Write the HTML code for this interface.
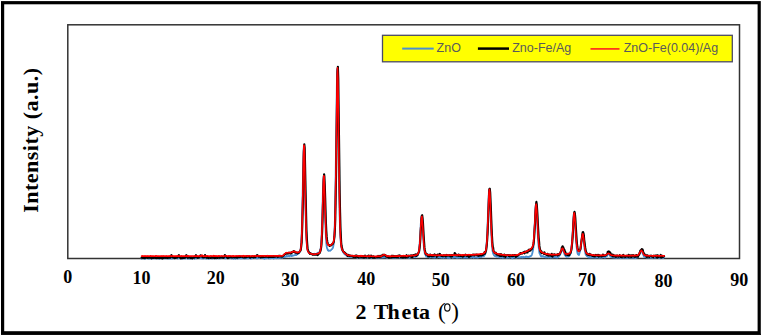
<!DOCTYPE html>
<html><head><meta charset="utf-8"><style>
html,body{margin:0;padding:0;background:#fff;width:762px;height:336px;overflow:hidden}
svg{display:block}
.t{font-family:"Liberation Serif",serif;font-weight:bold;fill:#000}
.l{font-family:"Liberation Sans",sans-serif;fill:#5a5a5a}
</style></head><body>
<svg width="762" height="336" viewBox="0 0 762 336">
<rect x="2.6" y="2.7" width="756.6" height="330.1" fill="none" stroke="#000" stroke-width="3.2"/>
<rect x="1" y="333.8" width="760" height="1.1" fill="#000"/>
<rect x="67.8" y="24.8" width="671.7" height="233.7" fill="none" stroke="#333" stroke-width="1.5"/>
<g fill="none" stroke-linejoin="round" stroke-linecap="round">
<path d="M141.6,258.8 L141.9,257.4 L142.3,258.3 L142.7,258.0 L143.0,258.1 L143.4,258.1 L143.8,257.6 L144.2,258.1 L144.5,257.9 L144.9,259.2 L145.3,258.3 L145.7,258.1 L146.0,258.1 L146.4,258.0 L146.8,257.9 L147.1,258.1 L147.5,258.3 L147.9,258.1 L148.3,258.5 L148.6,258.1 L149.0,258.2 L149.4,258.6 L149.8,258.3 L150.1,258.0 L150.5,258.1 L150.9,258.3 L151.3,258.8 L151.6,258.1 L152.0,258.1 L152.4,258.5 L152.7,257.9 L153.1,258.1 L153.5,258.4 L153.9,258.3 L154.2,258.2 L154.6,258.4 L155.0,257.3 L155.4,258.5 L155.7,257.9 L156.1,257.7 L156.5,258.3 L156.9,258.4 L157.2,258.0 L157.6,257.8 L158.0,258.2 L158.3,258.1 L158.7,258.6 L159.1,258.4 L159.5,258.2 L159.8,258.5 L160.2,258.1 L160.6,257.9 L161.0,258.3 L161.3,258.3 L161.7,258.1 L162.1,257.9 L162.5,258.2 L162.8,257.4 L163.2,258.4 L163.6,258.3 L163.9,257.7 L164.3,258.2 L164.7,257.9 L165.1,258.4 L165.4,257.5 L165.8,257.9 L166.2,258.4 L166.6,258.5 L166.9,257.5 L167.3,258.0 L167.7,258.2 L168.1,258.0 L168.4,258.6 L168.8,257.8 L169.2,258.3 L169.5,257.8 L169.9,258.6 L170.3,258.1 L170.7,258.0 L171.0,257.6 L171.4,258.6 L171.8,258.4 L172.2,258.4 L172.5,258.5 L172.9,258.2 L173.3,258.0 L173.6,257.9 L174.0,257.9 L174.4,258.6 L174.8,257.7 L175.1,258.0 L175.5,258.0 L175.9,258.2 L176.3,258.3 L176.6,257.8 L177.0,257.6 L177.4,258.1 L177.8,258.5 L178.1,258.4 L178.5,258.2 L178.9,258.0 L179.2,258.2 L179.6,258.1 L180.0,258.4 L180.4,257.9 L180.7,258.2 L181.1,258.1 L181.5,258.3 L181.9,258.2 L182.2,258.9 L182.6,258.6 L183.0,258.6 L183.4,257.5 L183.7,258.0 L184.1,257.9 L184.5,258.3 L184.8,257.4 L185.2,258.5 L185.6,258.4 L186.0,257.7 L186.3,257.8 L186.7,257.9 L187.1,258.1 L187.5,258.3 L187.8,258.7 L188.2,258.1 L188.6,258.3 L189.0,258.2 L189.3,258.6 L189.7,258.3 L190.1,258.5 L190.4,257.8 L190.8,258.1 L191.2,257.9 L191.6,258.6 L191.9,258.3 L192.3,258.0 L192.7,258.0 L193.1,258.3 L193.4,257.9 L193.8,257.8 L194.2,258.3 L194.6,258.8 L194.9,258.0 L195.3,257.9 L195.7,257.8 L196.0,257.7 L196.4,258.3 L196.8,258.4 L197.2,258.1 L197.5,258.2 L197.9,258.1 L198.3,258.1 L198.7,257.6 L199.0,258.0 L199.4,258.1 L199.8,257.9 L200.2,258.0 L200.5,257.9 L200.9,258.0 L201.3,258.4 L201.6,258.0 L202.0,258.0 L202.4,258.3 L202.8,258.3 L203.1,258.6 L203.5,257.5 L203.9,258.3 L204.3,257.9 L204.6,258.1 L205.0,258.3 L205.4,258.4 L205.7,258.4 L206.1,258.1 L206.5,258.6 L206.9,258.0 L207.2,258.0 L207.6,258.3 L208.0,257.9 L208.4,258.7 L208.7,258.4 L209.1,258.7 L209.5,258.1 L209.9,258.0 L210.2,258.1 L210.6,258.3 L211.0,257.9 L211.3,258.2 L211.7,258.1 L212.1,258.6 L212.5,257.9 L212.8,258.4 L213.2,257.9 L213.6,257.8 L214.0,257.9 L214.3,257.7 L214.7,258.1 L215.1,258.4 L215.5,258.1 L215.8,258.3 L216.2,258.6 L216.6,258.1 L216.9,258.1 L217.3,258.0 L217.7,257.6 L218.1,258.3 L218.4,257.5 L218.8,258.3 L219.2,258.1 L219.6,258.4 L219.9,258.0 L220.3,257.8 L220.7,258.2 L221.1,257.9 L221.4,258.0 L221.8,258.1 L222.2,258.0 L222.5,258.0 L222.9,257.8 L223.3,258.0 L223.7,257.4 L224.0,258.0 L224.4,257.7 L224.8,258.4 L225.2,258.4 L225.5,257.5 L225.9,258.1 L226.3,258.0 L226.7,257.7 L227.0,258.2 L227.4,257.9 L227.8,257.5 L228.1,258.0 L228.5,258.0 L228.9,258.1 L229.3,257.7 L229.6,258.2 L230.0,258.3 L230.4,257.7 L230.8,257.8 L231.1,258.0 L231.5,257.9 L231.9,258.6 L232.2,258.1 L232.6,257.7 L233.0,257.8 L233.4,258.0 L233.7,258.7 L234.1,258.0 L234.5,258.1 L234.9,258.2 L235.2,258.0 L235.6,258.7 L236.0,257.9 L236.4,258.3 L236.7,258.1 L237.1,258.2 L237.5,257.7 L237.8,258.6 L238.2,258.0 L238.6,258.0 L239.0,257.7 L239.3,257.8 L239.7,258.2 L240.1,258.3 L240.5,258.2 L240.8,258.4 L241.2,258.2 L241.6,258.0 L242.0,258.3 L242.3,258.2 L242.7,258.0 L243.1,258.2 L243.4,258.4 L243.8,258.1 L244.2,257.9 L244.6,258.2 L244.9,258.6 L245.3,257.9 L245.7,258.0 L246.1,258.0 L246.4,258.4 L246.8,257.5 L247.2,258.1 L247.6,258.4 L247.9,257.8 L248.3,258.4 L248.7,258.2 L249.0,257.8 L249.4,258.1 L249.8,257.5 L250.2,257.8 L250.5,258.5 L250.9,257.7 L251.3,258.5 L251.7,258.0 L252.0,258.3 L252.4,258.0 L252.8,257.3 L253.2,257.8 L253.5,258.0 L253.9,257.6 L254.3,257.6 L254.6,258.1 L255.0,257.8 L255.4,257.5 L255.8,257.8 L256.1,258.2 L256.5,257.8 L256.9,258.3 L257.3,258.4 L257.6,258.0 L258.0,257.6 L258.4,257.6 L258.8,258.0 L259.1,258.2 L259.5,258.0 L259.9,258.1 L260.2,257.8 L260.6,258.0 L261.0,257.8 L261.4,257.9 L261.7,257.6 L262.1,257.5 L262.5,257.8 L262.9,257.6 L263.2,257.7 L263.6,258.1 L264.0,257.9 L264.3,258.8 L264.7,258.2 L265.1,257.7 L265.5,258.2 L265.8,258.0 L266.2,257.7 L266.6,258.3 L267.0,257.7 L267.3,257.0 L267.7,258.2 L268.1,257.7 L268.5,258.4 L268.8,257.7 L269.2,257.6 L269.6,258.4 L269.9,257.6 L270.3,258.0 L270.7,258.3 L271.1,257.9 L271.4,257.9 L271.8,257.9 L272.2,258.1 L272.6,257.7 L272.9,258.1 L273.3,258.1 L273.7,258.6 L274.1,257.8 L274.4,257.6 L274.8,258.1 L275.2,257.8 L275.5,258.0 L275.9,257.9 L276.3,258.2 L276.7,257.7 L277.0,257.8 L277.4,257.1 L277.8,257.6 L278.2,258.3 L278.5,257.6 L278.9,257.6 L279.3,257.5 L279.7,258.0 L280.0,257.8 L280.4,257.3 L280.8,257.8 L281.1,257.6 L281.5,257.7 L281.9,257.2 L282.3,257.8 L282.6,257.3 L283.0,257.1 L283.4,256.9 L283.8,256.9 L284.1,257.1 L284.5,256.7 L284.9,257.0 L285.3,256.8 L285.6,256.9 L286.0,256.7 L286.4,256.3 L286.7,255.7 L287.1,256.3 L287.5,256.4 L287.9,256.1 L288.2,256.2 L288.6,255.9 L289.0,255.8 L289.4,255.6 L289.7,256.3 L290.1,255.8 L290.5,255.6 L290.9,255.3 L291.2,255.6 L291.6,256.0 L292.0,255.6 L292.3,255.2 L292.7,255.8 L293.1,255.7 L293.5,255.5 L293.8,255.4 L294.2,255.4 L294.6,255.1 L295.0,255.1 L295.3,254.5 L295.7,255.1 L296.1,254.6 L296.4,255.0 L296.8,253.6 L297.2,254.3 L297.6,254.2 L297.9,253.6 L298.3,253.6 L298.7,253.4 L299.1,253.0 L299.4,252.2 L299.8,251.7 L300.2,251.1 L300.6,249.5 L300.9,246.2 L301.3,241.2 L301.7,233.2 L302.0,221.5 L302.4,204.8 L302.8,185.7 L303.2,166.8 L303.5,151.3 L303.9,145.5 L304.3,151.6 L304.7,166.8 L305.0,185.7 L305.4,205.2 L305.8,220.4 L306.2,233.0 L306.5,240.4 L306.9,245.4 L307.3,248.8 L307.6,250.2 L308.0,251.0 L308.4,251.8 L308.8,252.5 L309.1,252.6 L309.5,252.9 L309.9,253.4 L310.3,253.0 L310.6,253.3 L311.0,253.4 L311.4,254.0 L311.8,254.0 L312.1,254.1 L312.5,253.8 L312.9,253.8 L313.2,254.1 L313.6,253.8 L314.0,254.1 L314.4,254.1 L314.7,253.7 L315.1,253.8 L315.5,253.8 L315.9,254.3 L316.2,254.5 L316.6,253.6 L317.0,253.6 L317.4,252.8 L317.7,253.4 L318.1,253.2 L318.5,252.7 L318.8,253.0 L319.2,252.0 L319.6,251.8 L320.0,251.1 L320.3,249.4 L320.7,247.9 L321.1,244.3 L321.5,237.8 L321.8,229.3 L322.2,218.5 L322.6,204.9 L322.9,190.8 L323.3,180.4 L323.7,176.3 L324.1,180.3 L324.4,191.2 L324.8,204.6 L325.2,218.3 L325.6,229.4 L325.9,237.5 L326.3,243.1 L326.7,246.6 L327.1,248.4 L327.4,248.9 L327.8,250.1 L328.2,250.2 L328.5,250.9 L328.9,250.5 L329.3,250.7 L329.7,250.6 L330.0,250.9 L330.4,250.4 L330.8,250.1 L331.2,250.0 L331.5,249.5 L331.9,249.3 L332.3,248.7 L332.7,248.1 L333.0,247.7 L333.4,245.5 L333.8,243.2 L334.1,238.9 L334.5,231.9 L334.9,219.7 L335.3,202.5 L335.6,178.9 L336.0,149.8 L336.4,117.7 L336.8,88.7 L337.1,69.9 L337.5,68.6 L337.9,84.6 L338.3,111.8 L338.6,143.7 L339.0,174.0 L339.4,198.7 L339.7,217.7 L340.1,230.5 L340.5,238.9 L340.9,243.7 L341.2,246.2 L341.6,248.7 L342.0,250.1 L342.4,250.5 L342.7,251.4 L343.1,252.0 L343.5,252.7 L343.9,252.5 L344.2,253.9 L344.6,253.7 L345.0,254.5 L345.3,254.5 L345.7,254.7 L346.1,255.1 L346.5,255.6 L346.8,255.4 L347.2,255.8 L347.6,256.0 L348.0,255.7 L348.3,256.7 L348.7,256.5 L349.1,256.4 L349.5,256.8 L349.8,256.2 L350.2,256.5 L350.6,257.1 L350.9,256.9 L351.3,256.0 L351.7,255.7 L352.1,256.4 L352.4,257.1 L352.8,256.7 L353.2,256.8 L353.6,257.0 L353.9,256.6 L354.3,257.0 L354.7,257.2 L355.0,257.1 L355.4,257.1 L355.8,256.8 L356.2,257.1 L356.5,256.9 L356.9,257.4 L357.3,257.8 L357.7,256.8 L358.0,256.4 L358.4,256.9 L358.8,257.2 L359.2,257.4 L359.5,257.4 L359.9,256.9 L360.3,256.9 L360.6,257.5 L361.0,256.8 L361.4,257.5 L361.8,257.1 L362.1,257.4 L362.5,257.4 L362.9,257.4 L363.3,257.4 L363.6,256.9 L364.0,257.3 L364.4,257.2 L364.8,257.3 L365.1,257.6 L365.5,257.1 L365.9,257.0 L366.2,257.0 L366.6,257.1 L367.0,257.4 L367.4,257.0 L367.7,257.6 L368.1,257.3 L368.5,257.2 L368.9,256.8 L369.2,257.3 L369.6,257.4 L370.0,256.7 L370.4,257.6 L370.7,257.7 L371.1,257.4 L371.5,257.4 L371.8,258.0 L372.2,257.6 L372.6,257.0 L373.0,257.3 L373.3,257.2 L373.7,257.2 L374.1,256.6 L374.5,257.5 L374.8,257.1 L375.2,257.3 L375.6,257.2 L376.0,257.5 L376.3,257.2 L376.7,257.1 L377.1,257.5 L377.4,257.7 L377.8,257.2 L378.2,257.7 L378.6,257.4 L378.9,257.1 L379.3,257.8 L379.7,257.1 L380.1,257.6 L380.4,257.2 L380.8,257.4 L381.2,256.9 L381.5,257.1 L381.9,257.6 L382.3,257.4 L382.7,257.3 L383.0,257.2 L383.4,257.4 L383.8,256.9 L384.2,257.0 L384.5,257.3 L384.9,257.1 L385.3,257.1 L385.7,257.3 L386.0,257.3 L386.4,257.3 L386.8,257.8 L387.1,257.6 L387.5,257.7 L387.9,257.3 L388.3,257.2 L388.6,256.9 L389.0,257.2 L389.4,256.7 L389.8,257.1 L390.1,257.6 L390.5,257.8 L390.9,257.6 L391.3,257.1 L391.6,257.5 L392.0,257.1 L392.4,257.6 L392.7,257.3 L393.1,257.6 L393.5,258.1 L393.9,257.6 L394.2,258.0 L394.6,257.4 L395.0,257.2 L395.4,257.7 L395.7,257.8 L396.1,257.2 L396.5,257.3 L396.9,256.9 L397.2,257.3 L397.6,257.6 L398.0,257.3 L398.3,257.1 L398.7,256.9 L399.1,257.4 L399.5,257.6 L399.8,257.5 L400.2,257.4 L400.6,256.9 L401.0,257.8 L401.3,257.3 L401.7,257.3 L402.1,257.5 L402.5,256.7 L402.8,257.3 L403.2,257.3 L403.6,257.4 L403.9,257.7 L404.3,257.4 L404.7,256.7 L405.1,257.2 L405.4,257.3 L405.8,257.3 L406.2,256.9 L406.6,256.8 L406.9,257.4 L407.3,257.3 L407.7,257.2 L408.1,256.7 L408.4,257.8 L408.8,256.3 L409.2,257.1 L409.5,257.8 L409.9,257.1 L410.3,257.2 L410.7,256.8 L411.0,257.5 L411.4,256.7 L411.8,257.2 L412.2,257.1 L412.5,256.7 L412.9,257.3 L413.3,256.6 L413.6,256.7 L414.0,256.9 L414.4,256.7 L414.8,256.9 L415.1,257.0 L415.5,256.6 L415.9,256.4 L416.3,256.3 L416.6,256.2 L417.0,256.3 L417.4,255.7 L417.8,255.4 L418.1,254.5 L418.5,253.0 L418.9,251.5 L419.2,247.9 L419.6,243.9 L420.0,238.8 L420.4,231.6 L420.7,225.4 L421.1,219.3 L421.5,216.5 L421.9,216.6 L422.2,220.7 L422.6,226.5 L423.0,233.3 L423.4,240.0 L423.7,244.9 L424.1,249.1 L424.5,251.7 L424.8,253.5 L425.2,254.5 L425.6,254.9 L426.0,255.9 L426.3,256.6 L426.7,256.5 L427.1,256.3 L427.5,257.1 L427.8,256.5 L428.2,256.6 L428.6,256.5 L429.0,256.6 L429.3,256.9 L429.7,257.6 L430.1,256.9 L430.4,256.7 L430.8,256.9 L431.2,257.0 L431.6,256.6 L431.9,257.2 L432.3,257.4 L432.7,257.3 L433.1,257.4 L433.4,256.8 L433.8,256.7 L434.2,257.6 L434.6,257.6 L434.9,256.8 L435.3,257.3 L435.7,257.3 L436.0,257.4 L436.4,257.3 L436.8,257.1 L437.2,257.3 L437.5,257.3 L437.9,257.3 L438.3,256.7 L438.7,256.4 L439.0,257.1 L439.4,256.8 L439.8,257.4 L440.2,257.5 L440.5,257.4 L440.9,257.2 L441.3,257.4 L441.6,257.7 L442.0,257.1 L442.4,257.6 L442.8,257.6 L443.1,257.4 L443.5,257.8 L443.9,257.1 L444.3,257.6 L444.6,257.1 L445.0,257.1 L445.4,257.0 L445.7,257.5 L446.1,257.1 L446.5,257.4 L446.9,257.0 L447.2,257.7 L447.6,257.9 L448.0,257.4 L448.4,257.9 L448.7,257.5 L449.1,258.0 L449.5,257.4 L449.9,256.9 L450.2,257.8 L450.6,257.3 L451.0,257.1 L451.3,257.2 L451.7,256.9 L452.1,257.3 L452.5,257.0 L452.8,257.8 L453.2,257.6 L453.6,256.9 L454.0,256.9 L454.3,257.2 L454.7,256.8 L455.1,257.3 L455.5,257.4 L455.8,257.1 L456.2,257.2 L456.6,257.5 L456.9,257.8 L457.3,257.8 L457.7,257.4 L458.1,257.6 L458.4,257.1 L458.8,257.5 L459.2,257.1 L459.6,257.6 L459.9,257.0 L460.3,257.1 L460.7,257.4 L461.1,257.5 L461.4,256.9 L461.8,257.2 L462.2,257.4 L462.5,257.4 L462.9,257.1 L463.3,257.4 L463.7,257.3 L464.0,257.8 L464.4,257.5 L464.8,256.9 L465.2,256.7 L465.5,257.4 L465.9,257.7 L466.3,257.4 L466.7,257.6 L467.0,257.2 L467.4,256.9 L467.8,257.5 L468.1,257.3 L468.5,257.5 L468.9,256.9 L469.3,257.4 L469.6,257.1 L470.0,257.5 L470.4,257.1 L470.8,257.1 L471.1,257.1 L471.5,257.6 L471.9,257.3 L472.2,257.0 L472.6,256.9 L473.0,256.9 L473.4,257.7 L473.7,256.7 L474.1,257.0 L474.5,257.4 L474.9,257.5 L475.2,257.1 L475.6,257.4 L476.0,257.4 L476.4,257.4 L476.7,257.1 L477.1,257.6 L477.5,257.1 L477.8,257.5 L478.2,256.7 L478.6,257.3 L479.0,256.6 L479.3,256.5 L479.7,257.0 L480.1,256.6 L480.5,256.9 L480.8,256.4 L481.2,257.1 L481.6,256.6 L482.0,256.2 L482.3,256.4 L482.7,256.5 L483.1,255.9 L483.4,256.1 L483.8,256.4 L484.2,255.8 L484.6,255.1 L484.9,254.4 L485.3,253.9 L485.7,251.8 L486.1,249.1 L486.4,246.4 L486.8,241.1 L487.2,235.0 L487.6,225.8 L487.9,215.3 L488.3,204.8 L488.7,196.3 L489.0,190.2 L489.4,189.7 L489.8,194.6 L490.2,203.2 L490.5,213.5 L490.9,223.8 L491.3,233.3 L491.7,240.7 L492.0,245.2 L492.4,250.2 L492.8,252.0 L493.2,253.8 L493.5,254.2 L493.9,255.1 L494.3,255.5 L494.6,255.8 L495.0,256.2 L495.4,256.3 L495.8,256.0 L496.1,256.3 L496.5,256.7 L496.9,256.8 L497.3,256.5 L497.6,256.6 L498.0,256.7 L498.4,256.5 L498.8,256.5 L499.1,257.4 L499.5,256.8 L499.9,257.0 L500.2,256.8 L500.6,257.4 L501.0,257.6 L501.4,257.0 L501.7,257.3 L502.1,256.9 L502.5,257.7 L502.9,257.4 L503.2,256.9 L503.6,257.6 L504.0,257.3 L504.3,257.3 L504.7,257.3 L505.1,257.0 L505.5,257.1 L505.8,257.4 L506.2,257.2 L506.6,257.0 L507.0,257.9 L507.3,257.2 L507.7,257.1 L508.1,257.1 L508.5,257.5 L508.8,257.6 L509.2,257.4 L509.6,257.6 L509.9,256.9 L510.3,257.2 L510.7,257.2 L511.1,257.3 L511.4,257.5 L511.8,256.7 L512.2,258.3 L512.6,257.1 L512.9,257.4 L513.3,257.6 L513.7,257.6 L514.1,257.4 L514.4,256.4 L514.8,257.0 L515.2,257.5 L515.5,257.0 L515.9,257.0 L516.3,256.6 L516.7,257.7 L517.0,257.5 L517.4,257.0 L517.8,257.3 L518.2,257.3 L518.5,257.0 L518.9,257.2 L519.3,257.4 L519.7,257.4 L520.0,257.6 L520.4,257.3 L520.8,257.1 L521.1,257.4 L521.5,257.0 L521.9,256.8 L522.3,257.6 L522.6,257.1 L523.0,257.2 L523.4,257.4 L523.8,256.8 L524.1,257.3 L524.5,257.3 L524.9,257.1 L525.3,257.2 L525.6,256.8 L526.0,256.4 L526.4,256.9 L526.7,256.7 L527.1,257.2 L527.5,257.0 L527.9,256.7 L528.2,256.8 L528.6,257.1 L529.0,257.0 L529.4,256.7 L529.7,256.6 L530.1,256.2 L530.5,256.1 L530.8,256.1 L531.2,255.7 L531.6,255.4 L532.0,254.3 L532.3,253.2 L532.7,251.6 L533.1,249.4 L533.5,246.3 L533.8,241.1 L534.2,233.9 L534.6,226.0 L535.0,218.5 L535.3,211.0 L535.7,205.4 L536.1,204.8 L536.4,207.5 L536.8,214.0 L537.2,221.6 L537.6,229.9 L537.9,237.1 L538.3,242.7 L538.7,247.4 L539.1,250.5 L539.4,253.1 L539.8,253.8 L540.2,254.5 L540.6,255.7 L540.9,256.1 L541.3,256.5 L541.7,256.5 L542.0,255.9 L542.4,256.3 L542.8,256.4 L543.2,256.6 L543.5,256.1 L543.9,256.8 L544.3,256.9 L544.7,256.6 L545.0,257.0 L545.4,257.3 L545.8,257.0 L546.2,257.3 L546.5,257.3 L546.9,257.2 L547.3,257.2 L547.6,257.0 L548.0,257.5 L548.4,257.0 L548.8,256.9 L549.1,257.4 L549.5,256.9 L549.9,257.3 L550.3,257.5 L550.6,257.2 L551.0,257.2 L551.4,257.5 L551.8,257.4 L552.1,256.7 L552.5,256.8 L552.9,257.6 L553.2,257.3 L553.6,256.6 L554.0,256.8 L554.4,257.2 L554.7,256.9 L555.1,257.3 L555.5,257.2 L555.9,257.3 L556.2,256.8 L556.6,257.3 L557.0,257.6 L557.4,256.8 L557.7,257.3 L558.1,257.2 L558.5,256.9 L558.8,256.5 L559.2,255.8 L559.6,255.4 L560.0,255.2 L560.3,254.2 L560.7,253.1 L561.1,251.8 L561.5,250.5 L561.8,249.1 L562.2,248.3 L562.6,249.0 L562.9,249.8 L563.3,250.9 L563.7,251.7 L564.1,253.2 L564.4,253.9 L564.8,255.2 L565.2,255.4 L565.6,256.0 L565.9,256.4 L566.3,256.5 L566.7,256.9 L567.1,256.1 L567.4,255.8 L567.8,256.6 L568.2,256.7 L568.5,256.6 L568.9,256.1 L569.3,256.0 L569.7,255.5 L570.0,254.6 L570.4,254.0 L570.8,253.0 L571.2,250.6 L571.5,248.3 L571.9,243.0 L572.3,237.9 L572.7,232.0 L573.0,224.7 L573.4,218.4 L573.8,214.2 L574.1,213.3 L574.5,216.4 L574.9,221.1 L575.3,227.6 L575.6,234.0 L576.0,240.4 L576.4,245.1 L576.8,248.5 L577.1,251.2 L577.5,253.1 L577.9,254.3 L578.3,254.4 L578.6,254.7 L579.0,255.0 L579.4,253.6 L579.7,252.4 L580.1,251.5 L580.5,249.1 L580.9,246.0 L581.2,242.8 L581.6,239.1 L582.0,236.4 L582.4,234.3 L582.7,234.5 L583.1,235.5 L583.5,238.5 L583.9,242.3 L584.2,245.6 L584.6,249.1 L585.0,251.4 L585.3,253.1 L585.7,254.6 L586.1,255.2 L586.5,255.5 L586.8,255.9 L587.2,256.3 L587.6,256.5 L588.0,256.8 L588.3,257.1 L588.7,257.1 L589.1,257.5 L589.5,257.4 L589.8,257.0 L590.2,257.6 L590.6,257.5 L590.9,257.0 L591.3,257.3 L591.7,257.5 L592.1,257.3 L592.4,257.5 L592.8,257.4 L593.2,257.5 L593.6,257.2 L593.9,257.4 L594.3,257.2 L594.7,257.5 L595.0,256.8 L595.4,257.4 L595.8,257.7 L596.2,257.5 L596.5,257.4 L596.9,257.5 L597.3,257.1 L597.7,257.1 L598.0,257.3 L598.4,257.3 L598.8,257.7 L599.2,257.1 L599.5,257.7 L599.9,256.9 L600.3,257.2 L600.6,257.4 L601.0,257.7 L601.4,257.2 L601.8,256.7 L602.1,257.5 L602.5,257.4 L602.9,257.0 L603.3,257.0 L603.6,257.1 L604.0,257.3 L604.4,257.4 L604.8,256.7 L605.1,257.7 L605.5,256.8 L605.9,256.4 L606.2,256.4 L606.6,255.8 L607.0,256.0 L607.4,255.1 L607.7,254.2 L608.1,253.9 L608.5,253.8 L608.9,254.0 L609.2,254.7 L609.6,254.8 L610.0,256.0 L610.4,255.9 L610.7,256.3 L611.1,257.0 L611.5,256.4 L611.8,256.8 L612.2,257.4 L612.6,257.3 L613.0,257.3 L613.3,257.5 L613.7,257.2 L614.1,257.4 L614.5,257.0 L614.8,256.9 L615.2,257.8 L615.6,257.2 L616.0,257.3 L616.3,257.9 L616.7,257.8 L617.1,257.3 L617.4,257.3 L617.8,257.5 L618.2,257.2 L618.6,257.7 L618.9,257.5 L619.3,257.5 L619.7,257.7 L620.1,257.7 L620.4,258.1 L620.8,258.0 L621.2,257.0 L621.5,257.8 L621.9,257.2 L622.3,257.1 L622.7,257.7 L623.0,257.3 L623.4,257.4 L623.8,257.8 L624.2,257.3 L624.5,257.2 L624.9,257.6 L625.3,257.9 L625.7,257.7 L626.0,257.0 L626.4,257.3 L626.8,257.5 L627.1,258.1 L627.5,257.8 L627.9,257.8 L628.3,257.9 L628.6,257.4 L629.0,257.7 L629.4,257.7 L629.8,257.2 L630.1,257.5 L630.5,257.7 L630.9,257.2 L631.3,257.7 L631.6,257.7 L632.0,257.8 L632.4,257.2 L632.7,257.5 L633.1,257.9 L633.5,257.7 L633.9,257.2 L634.2,257.5 L634.6,257.9 L635.0,257.4 L635.4,257.5 L635.7,258.1 L636.1,257.3 L636.5,257.3 L636.9,256.9 L637.2,256.9 L637.6,257.4 L638.0,256.6 L638.3,255.9 L638.7,255.4 L639.1,255.0 L639.5,254.4 L639.8,253.0 L640.2,252.5 L640.6,251.3 L641.0,251.1 L641.3,251.1 L641.7,251.5 L642.1,251.9 L642.5,253.0 L642.8,254.1 L643.2,254.5 L643.6,255.6 L643.9,256.3 L644.3,256.9 L644.7,256.9 L645.1,257.0 L645.4,257.2 L645.8,257.1 L646.2,257.3 L646.6,257.5 L646.9,257.5 L647.3,257.1 L647.7,257.3 L648.1,256.8 L648.4,257.7 L648.8,257.3 L649.2,257.5 L649.5,257.2 L649.9,257.5 L650.3,257.6 L650.7,257.8 L651.0,257.1 L651.4,257.8 L651.8,257.5 L652.2,257.3 L652.5,257.7 L652.9,257.4 L653.3,257.4 L653.6,257.3 L654.0,257.6 L654.4,257.5 L654.8,257.5 L655.1,257.3 L655.5,257.4 L655.9,257.7 L656.3,257.9 L656.6,257.5 L657.0,258.0 L657.4,257.5 L657.8,257.2 L658.1,257.7 L658.5,257.3 L658.9,257.7 L659.2,257.9 L659.6,257.5 L660.0,257.5 L660.4,258.3 L660.7,257.6 L661.1,257.6 L661.5,257.8 L661.9,257.5 L662.2,257.5 L662.6,257.7 L663.0,256.8 L663.4,258.0 L663.7,257.2 L664.1,257.2" stroke="#4a8fd0" stroke-width="1.8"/>
<path d="M141.6,257.7 L141.9,257.5 L142.3,257.6 L142.7,257.0 L143.0,258.2 L143.4,258.0 L143.8,257.6 L144.2,257.9 L144.5,257.8 L144.9,257.5 L145.3,258.0 L145.7,257.6 L146.0,257.6 L146.4,257.5 L146.8,257.8 L147.1,257.7 L147.5,257.9 L147.9,257.5 L148.3,257.7 L148.6,257.4 L149.0,257.9 L149.4,257.7 L149.8,257.8 L150.1,257.8 L150.5,257.4 L150.9,257.9 L151.3,258.3 L151.6,257.2 L152.0,257.2 L152.4,257.2 L152.7,257.9 L153.1,257.7 L153.5,258.0 L153.9,257.9 L154.2,257.8 L154.6,257.8 L155.0,257.6 L155.4,258.0 L155.7,257.4 L156.1,257.6 L156.5,257.8 L156.9,258.2 L157.2,257.5 L157.6,257.4 L158.0,257.5 L158.3,258.0 L158.7,257.6 L159.1,258.1 L159.5,257.1 L159.8,258.0 L160.2,258.0 L160.6,257.3 L161.0,257.7 L161.3,258.1 L161.7,257.7 L162.1,258.0 L162.5,258.4 L162.8,257.8 L163.2,257.6 L163.6,257.5 L163.9,257.9 L164.3,257.6 L164.7,257.6 L165.1,257.7 L165.4,257.9 L165.8,257.4 L166.2,257.2 L166.6,257.0 L166.9,258.0 L167.3,257.7 L167.7,258.1 L168.1,257.7 L168.4,257.5 L168.8,257.8 L169.2,257.7 L169.5,257.3 L169.9,257.3 L170.3,257.7 L170.7,256.6 L171.0,255.8 L171.4,255.2 L171.8,255.5 L172.2,256.8 L172.5,257.2 L172.9,257.3 L173.3,257.6 L173.6,257.4 L174.0,257.7 L174.4,258.0 L174.8,257.4 L175.1,258.1 L175.5,257.5 L175.9,257.7 L176.3,257.4 L176.6,257.6 L177.0,257.7 L177.4,257.4 L177.8,257.0 L178.1,256.4 L178.5,255.6 L178.9,255.0 L179.2,255.8 L179.6,256.7 L180.0,257.5 L180.4,257.7 L180.7,258.4 L181.1,257.8 L181.5,257.5 L181.9,258.2 L182.2,257.4 L182.6,258.0 L183.0,257.4 L183.4,257.8 L183.7,257.1 L184.1,258.0 L184.5,257.6 L184.8,257.2 L185.2,257.7 L185.6,256.7 L186.0,255.7 L186.3,255.1 L186.7,255.7 L187.1,256.4 L187.5,257.4 L187.8,257.8 L188.2,257.5 L188.6,257.5 L189.0,257.5 L189.3,257.3 L189.7,257.5 L190.1,257.7 L190.4,257.9 L190.8,258.1 L191.2,257.4 L191.6,257.8 L191.9,257.6 L192.3,258.3 L192.7,257.7 L193.1,257.8 L193.4,257.4 L193.8,257.4 L194.2,257.7 L194.6,257.4 L194.9,257.3 L195.3,256.1 L195.7,256.0 L196.0,255.2 L196.4,256.4 L196.8,256.5 L197.2,257.6 L197.5,257.1 L197.9,257.8 L198.3,257.4 L198.7,257.5 L199.0,257.5 L199.4,257.0 L199.8,256.5 L200.2,255.7 L200.5,255.3 L200.9,255.5 L201.3,256.0 L201.6,256.5 L202.0,256.7 L202.4,256.4 L202.8,257.5 L203.1,257.4 L203.5,257.5 L203.9,257.5 L204.3,256.7 L204.6,255.7 L205.0,255.0 L205.4,255.7 L205.7,256.6 L206.1,256.9 L206.5,257.8 L206.9,257.8 L207.2,257.0 L207.6,257.7 L208.0,257.2 L208.4,257.9 L208.7,257.8 L209.1,257.3 L209.5,257.3 L209.9,257.6 L210.2,257.5 L210.6,258.0 L211.0,257.8 L211.3,257.5 L211.7,257.7 L212.1,256.9 L212.5,257.6 L212.8,257.8 L213.2,257.5 L213.6,257.3 L214.0,257.7 L214.3,258.1 L214.7,257.6 L215.1,257.2 L215.5,257.9 L215.8,256.9 L216.2,257.6 L216.6,257.3 L216.9,257.8 L217.3,257.2 L217.7,257.9 L218.1,257.5 L218.4,256.9 L218.8,256.9 L219.2,257.3 L219.6,257.8 L219.9,257.5 L220.3,257.4 L220.7,257.3 L221.1,257.6 L221.4,257.5 L221.8,257.5 L222.2,257.1 L222.5,257.7 L222.9,257.8 L223.3,257.0 L223.7,257.9 L224.0,257.2 L224.4,256.2 L224.8,255.1 L225.2,255.5 L225.5,255.8 L225.9,256.2 L226.3,256.4 L226.7,257.5 L227.0,257.1 L227.4,257.2 L227.8,258.2 L228.1,257.9 L228.5,257.6 L228.9,257.1 L229.3,257.5 L229.6,256.6 L230.0,257.3 L230.4,257.0 L230.8,256.9 L231.1,256.8 L231.5,257.4 L231.9,257.3 L232.2,257.3 L232.6,257.5 L233.0,257.0 L233.4,256.8 L233.7,256.7 L234.1,257.1 L234.5,257.4 L234.9,257.1 L235.2,257.4 L235.6,256.8 L236.0,257.0 L236.4,256.9 L236.7,256.8 L237.1,257.7 L237.5,257.4 L237.8,256.9 L238.2,256.9 L238.6,257.1 L239.0,256.7 L239.3,257.2 L239.7,256.7 L240.1,257.0 L240.5,256.8 L240.8,257.0 L241.2,256.7 L241.6,256.6 L242.0,256.8 L242.3,256.9 L242.7,257.0 L243.1,257.1 L243.4,257.5 L243.8,257.3 L244.2,257.0 L244.6,257.3 L244.9,256.8 L245.3,257.5 L245.7,257.2 L246.1,256.6 L246.4,257.2 L246.8,257.2 L247.2,256.2 L247.6,256.8 L247.9,256.8 L248.3,256.4 L248.7,256.6 L249.0,256.7 L249.4,257.1 L249.8,257.0 L250.2,257.7 L250.5,256.8 L250.9,257.3 L251.3,256.9 L251.7,257.0 L252.0,256.6 L252.4,256.3 L252.8,256.7 L253.2,257.1 L253.5,257.4 L253.9,257.1 L254.3,257.0 L254.6,256.6 L255.0,257.3 L255.4,257.2 L255.8,256.6 L256.1,256.5 L256.5,255.6 L256.9,255.8 L257.3,255.1 L257.6,255.3 L258.0,256.0 L258.4,256.6 L258.8,256.6 L259.1,256.4 L259.5,256.4 L259.9,256.3 L260.2,256.9 L260.6,257.4 L261.0,256.2 L261.4,256.8 L261.7,256.9 L262.1,256.4 L262.5,256.8 L262.9,256.4 L263.2,257.1 L263.6,256.5 L264.0,256.7 L264.3,256.9 L264.7,256.6 L265.1,256.1 L265.5,256.5 L265.8,256.9 L266.2,256.6 L266.6,256.7 L267.0,256.3 L267.3,256.7 L267.7,256.9 L268.1,256.6 L268.5,257.2 L268.8,256.5 L269.2,256.3 L269.6,256.1 L269.9,256.9 L270.3,256.6 L270.7,256.9 L271.1,256.7 L271.4,257.0 L271.8,256.9 L272.2,256.4 L272.6,256.6 L272.9,256.9 L273.3,256.2 L273.7,256.9 L274.1,256.9 L274.4,256.8 L274.8,256.4 L275.2,256.6 L275.5,256.1 L275.9,256.5 L276.3,256.3 L276.7,256.5 L277.0,256.3 L277.4,256.5 L277.8,256.8 L278.2,256.0 L278.5,256.7 L278.9,255.8 L279.3,255.7 L279.7,256.3 L280.0,256.4 L280.4,256.5 L280.8,255.8 L281.1,256.3 L281.5,256.4 L281.9,256.7 L282.3,256.3 L282.6,256.4 L283.0,255.7 L283.4,255.6 L283.8,255.1 L284.1,255.1 L284.5,254.3 L284.9,254.0 L285.3,254.1 L285.6,254.1 L286.0,253.3 L286.4,253.3 L286.7,253.1 L287.1,253.5 L287.5,253.3 L287.9,253.7 L288.2,253.3 L288.6,252.9 L289.0,253.0 L289.4,252.8 L289.7,252.7 L290.1,253.5 L290.5,253.3 L290.9,252.7 L291.2,253.4 L291.6,252.8 L292.0,252.2 L292.3,252.5 L292.7,252.2 L293.1,251.8 L293.5,251.2 L293.8,252.0 L294.2,252.1 L294.6,251.4 L295.0,252.4 L295.3,252.6 L295.7,252.4 L296.1,252.7 L296.4,252.6 L296.8,252.6 L297.2,252.8 L297.6,253.4 L297.9,252.6 L298.3,252.9 L298.7,252.8 L299.1,252.3 L299.4,252.1 L299.8,251.4 L300.2,251.0 L300.6,250.4 L300.9,248.9 L301.3,245.9 L301.7,242.4 L302.0,233.7 L302.4,222.5 L302.8,206.8 L303.2,187.9 L303.5,168.7 L303.9,151.7 L304.3,144.2 L304.7,147.8 L305.0,160.9 L305.4,180.6 L305.8,199.8 L306.2,217.9 L306.5,230.1 L306.9,239.1 L307.3,244.6 L307.6,248.2 L308.0,250.3 L308.4,251.3 L308.8,252.0 L309.1,252.6 L309.5,253.1 L309.9,253.9 L310.3,253.2 L310.6,253.7 L311.0,253.7 L311.4,253.7 L311.8,253.9 L312.1,254.0 L312.5,254.6 L312.9,254.4 L313.2,254.3 L313.6,254.7 L314.0,254.6 L314.4,254.5 L314.7,254.7 L315.1,254.3 L315.5,254.7 L315.9,254.6 L316.2,254.3 L316.6,254.0 L317.0,254.8 L317.4,254.3 L317.7,255.1 L318.1,253.8 L318.5,254.1 L318.8,253.6 L319.2,253.6 L319.6,253.2 L320.0,252.0 L320.3,251.3 L320.7,250.1 L321.1,247.9 L321.5,244.6 L321.8,239.2 L322.2,231.0 L322.6,219.8 L322.9,206.4 L323.3,192.0 L323.7,180.3 L324.1,174.2 L324.4,176.6 L324.8,185.2 L325.2,197.6 L325.6,211.2 L325.9,222.0 L326.3,230.5 L326.7,236.4 L327.1,240.5 L327.4,242.0 L327.8,243.6 L328.2,244.7 L328.5,244.9 L328.9,245.0 L329.3,245.2 L329.7,245.9 L330.0,245.3 L330.4,245.6 L330.8,245.5 L331.2,245.0 L331.5,245.0 L331.9,244.5 L332.3,244.1 L332.7,243.4 L333.0,243.7 L333.4,242.7 L333.8,241.6 L334.1,239.3 L334.5,236.5 L334.9,229.8 L335.3,219.0 L335.6,202.8 L336.0,180.2 L336.4,152.8 L336.8,121.7 L337.1,91.9 L337.5,72.0 L337.9,66.7 L338.3,78.6 L338.6,104.2 L339.0,135.4 L339.4,166.3 L339.7,192.5 L340.1,212.3 L340.5,227.5 L340.9,236.5 L341.2,242.5 L341.6,246.0 L342.0,247.7 L342.4,249.3 L342.7,250.4 L343.1,251.2 L343.5,251.6 L343.9,251.9 L344.2,252.4 L344.6,252.6 L345.0,252.8 L345.3,253.0 L345.7,253.9 L346.1,254.1 L346.5,254.0 L346.8,255.0 L347.2,255.3 L347.6,255.9 L348.0,255.4 L348.3,255.4 L348.7,254.9 L349.1,255.8 L349.5,256.0 L349.8,255.8 L350.2,255.9 L350.6,255.5 L350.9,255.7 L351.3,255.8 L351.7,256.1 L352.1,256.2 L352.4,255.8 L352.8,256.3 L353.2,256.6 L353.6,256.9 L353.9,256.5 L354.3,256.1 L354.7,256.9 L355.0,256.3 L355.4,255.6 L355.8,257.0 L356.2,255.6 L356.5,255.9 L356.9,255.6 L357.3,256.9 L357.7,256.0 L358.0,256.5 L358.4,257.1 L358.8,257.1 L359.2,256.4 L359.5,256.5 L359.9,256.0 L360.3,256.0 L360.6,256.3 L361.0,257.1 L361.4,257.0 L361.8,256.9 L362.1,256.4 L362.5,256.1 L362.9,256.4 L363.3,256.8 L363.6,257.5 L364.0,256.5 L364.4,256.2 L364.8,257.3 L365.1,255.6 L365.5,256.1 L365.9,257.0 L366.2,256.6 L366.6,256.8 L367.0,256.7 L367.4,256.2 L367.7,256.3 L368.1,256.2 L368.5,255.5 L368.9,256.1 L369.2,257.6 L369.6,256.9 L370.0,255.9 L370.4,256.5 L370.7,257.2 L371.1,255.6 L371.5,256.2 L371.8,256.9 L372.2,257.1 L372.6,257.6 L373.0,257.4 L373.3,256.3 L373.7,257.4 L374.1,257.1 L374.5,257.0 L374.8,257.6 L375.2,257.1 L375.6,257.3 L376.0,256.9 L376.3,256.7 L376.7,256.7 L377.1,257.1 L377.4,257.3 L377.8,257.3 L378.2,255.9 L378.6,256.5 L378.9,256.3 L379.3,257.2 L379.7,257.1 L380.1,255.8 L380.4,256.5 L380.8,256.7 L381.2,256.6 L381.5,256.0 L381.9,256.1 L382.3,255.1 L382.7,255.0 L383.0,254.7 L383.4,255.3 L383.8,254.9 L384.2,255.4 L384.5,254.9 L384.9,255.2 L385.3,255.5 L385.7,255.4 L386.0,256.4 L386.4,256.3 L386.8,256.2 L387.1,257.0 L387.5,256.6 L387.9,257.0 L388.3,256.3 L388.6,257.1 L389.0,257.6 L389.4,257.4 L389.8,257.4 L390.1,257.3 L390.5,257.3 L390.9,257.5 L391.3,257.0 L391.6,255.8 L392.0,256.8 L392.4,257.1 L392.7,255.8 L393.1,255.7 L393.5,256.3 L393.9,257.3 L394.2,256.1 L394.6,256.7 L395.0,257.2 L395.4,256.8 L395.7,256.1 L396.1,256.8 L396.5,256.1 L396.9,256.8 L397.2,256.2 L397.6,256.8 L398.0,257.1 L398.3,255.6 L398.7,255.7 L399.1,255.7 L399.5,256.2 L399.8,255.4 L400.2,256.0 L400.6,256.3 L401.0,257.2 L401.3,256.9 L401.7,256.4 L402.1,256.7 L402.5,257.4 L402.8,256.2 L403.2,256.7 L403.6,257.5 L403.9,256.0 L404.3,256.7 L404.7,256.0 L405.1,256.5 L405.4,257.3 L405.8,256.4 L406.2,256.5 L406.6,255.2 L406.9,256.9 L407.3,256.6 L407.7,256.6 L408.1,256.8 L408.4,256.1 L408.8,255.5 L409.2,256.2 L409.5,255.9 L409.9,255.8 L410.3,256.0 L410.7,256.3 L411.0,255.2 L411.4,257.0 L411.8,257.0 L412.2,255.9 L412.5,256.9 L412.9,255.8 L413.3,255.0 L413.6,255.1 L414.0,255.3 L414.4,255.5 L414.8,255.6 L415.1,254.7 L415.5,255.6 L415.9,254.2 L416.3,255.9 L416.6,255.2 L417.0,254.7 L417.4,255.0 L417.8,254.2 L418.1,253.3 L418.5,253.0 L418.9,251.7 L419.2,251.0 L419.6,248.3 L420.0,244.2 L420.4,238.5 L420.7,231.2 L421.1,225.2 L421.5,218.7 L421.9,215.5 L422.2,215.2 L422.6,218.1 L423.0,223.1 L423.4,230.3 L423.7,235.9 L424.1,241.8 L424.5,247.4 L424.8,249.7 L425.2,251.7 L425.6,253.5 L426.0,254.5 L426.3,254.0 L426.7,253.8 L427.1,254.7 L427.5,255.1 L427.8,255.1 L428.2,256.5 L428.6,254.9 L429.0,255.3 L429.3,255.4 L429.7,256.4 L430.1,254.5 L430.4,255.3 L430.8,254.9 L431.2,255.6 L431.6,256.2 L431.9,255.8 L432.3,255.2 L432.7,256.2 L433.1,255.7 L433.4,255.6 L433.8,256.1 L434.2,254.6 L434.6,254.4 L434.9,255.3 L435.3,255.3 L435.7,255.0 L436.0,255.6 L436.4,255.7 L436.8,256.8 L437.2,255.2 L437.5,254.6 L437.9,255.5 L438.3,254.6 L438.7,255.2 L439.0,255.5 L439.4,254.4 L439.8,253.8 L440.2,254.7 L440.5,254.9 L440.9,255.5 L441.3,256.0 L441.6,255.9 L442.0,255.7 L442.4,256.1 L442.8,255.9 L443.1,256.2 L443.5,255.3 L443.9,255.2 L444.3,255.4 L444.6,255.6 L445.0,255.9 L445.4,255.3 L445.7,256.5 L446.1,255.6 L446.5,255.2 L446.9,254.9 L447.2,255.5 L447.6,255.7 L448.0,255.6 L448.4,255.7 L448.7,255.4 L449.1,255.5 L449.5,255.3 L449.9,255.0 L450.2,256.3 L450.6,256.5 L451.0,255.5 L451.3,256.3 L451.7,255.1 L452.1,256.3 L452.5,255.2 L452.8,255.2 L453.2,255.3 L453.6,255.2 L454.0,255.3 L454.3,254.9 L454.7,253.1 L455.1,253.4 L455.5,254.3 L455.8,255.4 L456.2,255.3 L456.6,254.8 L456.9,255.7 L457.3,255.8 L457.7,255.7 L458.1,255.4 L458.4,254.6 L458.8,255.9 L459.2,255.4 L459.6,255.3 L459.9,254.8 L460.3,255.9 L460.7,255.9 L461.1,256.1 L461.4,255.7 L461.8,255.6 L462.2,255.2 L462.5,255.2 L462.9,256.6 L463.3,255.6 L463.7,255.4 L464.0,255.7 L464.4,255.8 L464.8,255.4 L465.2,255.5 L465.5,254.7 L465.9,254.9 L466.3,255.1 L466.7,255.4 L467.0,256.1 L467.4,255.4 L467.8,255.2 L468.1,254.9 L468.5,255.8 L468.9,257.0 L469.3,255.3 L469.6,256.2 L470.0,255.9 L470.4,256.2 L470.8,255.3 L471.1,255.2 L471.5,255.7 L471.9,255.3 L472.2,255.0 L472.6,255.0 L473.0,254.6 L473.4,255.2 L473.7,254.9 L474.1,254.8 L474.5,255.5 L474.9,255.5 L475.2,254.7 L475.6,255.0 L476.0,254.9 L476.4,254.6 L476.7,255.1 L477.1,254.5 L477.5,255.2 L477.8,255.4 L478.2,255.8 L478.6,254.9 L479.0,255.6 L479.3,255.2 L479.7,255.3 L480.1,255.5 L480.5,254.4 L480.8,255.0 L481.2,254.7 L481.6,255.4 L482.0,255.3 L482.3,254.1 L482.7,254.0 L483.1,254.8 L483.4,253.7 L483.8,254.0 L484.2,253.2 L484.6,252.1 L484.9,253.7 L485.3,252.9 L485.7,251.4 L486.1,250.3 L486.4,248.5 L486.8,244.8 L487.2,239.7 L487.6,233.2 L487.9,225.5 L488.3,214.7 L488.7,205.8 L489.0,195.4 L489.4,189.1 L489.8,188.7 L490.2,192.3 L490.5,199.0 L490.9,208.1 L491.3,219.6 L491.7,229.0 L492.0,236.1 L492.4,242.6 L492.8,246.6 L493.2,247.8 L493.5,250.8 L493.9,251.6 L494.3,252.1 L494.6,252.9 L495.0,252.7 L495.4,253.5 L495.8,252.7 L496.1,253.4 L496.5,254.4 L496.9,254.7 L497.3,254.2 L497.6,254.2 L498.0,254.8 L498.4,255.2 L498.8,254.6 L499.1,254.8 L499.5,254.3 L499.9,256.0 L500.2,255.6 L500.6,254.4 L501.0,254.1 L501.4,255.9 L501.7,255.3 L502.1,255.8 L502.5,254.9 L502.9,255.1 L503.2,255.6 L503.6,255.5 L504.0,256.4 L504.3,254.6 L504.7,256.0 L505.1,255.3 L505.5,256.9 L505.8,255.2 L506.2,255.5 L506.6,255.7 L507.0,255.2 L507.3,255.0 L507.7,255.2 L508.1,255.2 L508.5,255.4 L508.8,256.0 L509.2,255.2 L509.6,256.3 L509.9,255.9 L510.3,255.4 L510.7,256.1 L511.1,255.9 L511.4,255.5 L511.8,255.6 L512.2,256.2 L512.6,255.7 L512.9,255.0 L513.3,255.9 L513.7,255.9 L514.1,255.4 L514.4,255.2 L514.8,255.7 L515.2,255.1 L515.5,255.4 L515.9,256.9 L516.3,255.9 L516.7,256.1 L517.0,256.1 L517.4,255.2 L517.8,255.6 L518.2,255.0 L518.5,254.8 L518.9,254.8 L519.3,254.5 L519.7,253.7 L520.0,254.2 L520.4,253.0 L520.8,253.8 L521.1,253.4 L521.5,253.1 L521.9,253.3 L522.3,253.5 L522.6,252.9 L523.0,252.7 L523.4,252.3 L523.8,252.1 L524.1,252.6 L524.5,253.4 L524.9,251.5 L525.3,252.0 L525.6,251.8 L526.0,252.5 L526.4,251.8 L526.7,251.4 L527.1,252.3 L527.5,252.5 L527.9,251.3 L528.2,251.0 L528.6,249.8 L529.0,251.1 L529.4,249.8 L529.7,250.8 L530.1,250.2 L530.5,250.5 L530.8,249.0 L531.2,248.9 L531.6,249.3 L532.0,248.3 L532.3,247.6 L532.7,246.9 L533.1,245.6 L533.5,244.0 L533.8,241.7 L534.2,236.8 L534.6,230.1 L535.0,224.0 L535.3,216.2 L535.7,209.8 L536.1,203.7 L536.4,201.9 L536.8,204.5 L537.2,210.4 L537.6,217.0 L537.9,224.0 L538.3,230.8 L538.7,237.5 L539.1,241.5 L539.4,245.9 L539.8,248.1 L540.2,250.1 L540.6,251.7 L540.9,252.3 L541.3,251.3 L541.7,253.2 L542.0,252.9 L542.4,252.7 L542.8,252.9 L543.2,253.1 L543.5,252.8 L543.9,253.9 L544.3,252.2 L544.7,253.3 L545.0,253.6 L545.4,254.2 L545.8,254.3 L546.2,254.6 L546.5,254.4 L546.9,255.1 L547.3,253.7 L547.6,254.6 L548.0,254.3 L548.4,255.6 L548.8,254.5 L549.1,254.5 L549.5,255.0 L549.9,255.4 L550.3,255.5 L550.6,254.8 L551.0,255.5 L551.4,255.9 L551.8,253.9 L552.1,255.4 L552.5,256.6 L552.9,255.2 L553.2,255.3 L553.6,254.8 L554.0,254.3 L554.4,254.8 L554.7,254.3 L555.1,255.2 L555.5,254.9 L555.9,255.0 L556.2,254.8 L556.6,254.8 L557.0,254.6 L557.4,255.0 L557.7,255.5 L558.1,254.1 L558.5,254.7 L558.8,255.0 L559.2,254.1 L559.6,254.1 L560.0,253.7 L560.3,252.7 L560.7,251.5 L561.1,251.6 L561.5,249.7 L561.8,247.6 L562.2,247.2 L562.6,246.3 L562.9,247.2 L563.3,247.3 L563.7,248.9 L564.1,249.5 L564.4,249.8 L564.8,251.6 L565.2,251.6 L565.6,253.5 L565.9,254.7 L566.3,254.5 L566.7,253.7 L567.1,253.8 L567.4,255.0 L567.8,254.6 L568.2,253.8 L568.5,255.2 L568.9,255.1 L569.3,255.1 L569.7,254.0 L570.0,253.4 L570.4,253.3 L570.8,251.9 L571.2,250.5 L571.5,249.1 L571.9,245.4 L572.3,241.7 L572.7,236.7 L573.0,231.3 L573.4,223.6 L573.8,217.9 L574.1,213.3 L574.5,211.8 L574.9,213.5 L575.3,217.6 L575.6,222.6 L576.0,229.2 L576.4,235.5 L576.8,241.5 L577.1,245.0 L577.5,247.3 L577.9,249.1 L578.3,250.6 L578.6,250.9 L579.0,251.0 L579.4,250.4 L579.7,250.4 L580.1,249.8 L580.5,249.0 L580.9,245.2 L581.2,243.1 L581.6,240.4 L582.0,237.4 L582.4,234.2 L582.7,232.2 L583.1,232.1 L583.5,233.3 L583.9,235.4 L584.2,239.6 L584.6,242.4 L585.0,245.7 L585.3,248.6 L585.7,250.1 L586.1,252.3 L586.5,252.5 L586.8,254.1 L587.2,253.8 L587.6,254.8 L588.0,254.7 L588.3,254.5 L588.7,254.9 L589.1,254.6 L589.5,253.8 L589.8,255.3 L590.2,254.4 L590.6,254.6 L590.9,254.5 L591.3,254.8 L591.7,255.5 L592.1,255.8 L592.4,255.9 L592.8,255.7 L593.2,256.1 L593.6,255.2 L593.9,256.2 L594.3,255.8 L594.7,255.9 L595.0,256.5 L595.4,255.3 L595.8,254.8 L596.2,255.3 L596.5,255.0 L596.9,255.5 L597.3,255.9 L597.7,255.7 L598.0,254.8 L598.4,255.9 L598.8,256.6 L599.2,255.2 L599.5,255.7 L599.9,255.4 L600.3,255.8 L600.6,256.3 L601.0,256.2 L601.4,256.5 L601.8,256.3 L602.1,256.3 L602.5,255.9 L602.9,254.5 L603.3,255.4 L603.6,255.9 L604.0,255.6 L604.4,255.6 L604.8,255.7 L605.1,255.3 L605.5,255.6 L605.9,255.2 L606.2,255.1 L606.6,254.4 L607.0,254.3 L607.4,253.7 L607.7,251.8 L608.1,252.1 L608.5,252.0 L608.9,251.3 L609.2,252.0 L609.6,253.6 L610.0,252.3 L610.4,252.9 L610.7,255.0 L611.1,254.2 L611.5,254.8 L611.8,255.4 L612.2,255.9 L612.6,254.5 L613.0,256.4 L613.3,255.9 L613.7,255.2 L614.1,256.3 L614.5,256.3 L614.8,255.9 L615.2,256.6 L615.6,255.9 L616.0,256.9 L616.3,255.6 L616.7,256.2 L617.1,255.7 L617.4,255.6 L617.8,256.1 L618.2,256.7 L618.6,256.8 L618.9,255.8 L619.3,256.0 L619.7,255.2 L620.1,256.0 L620.4,256.2 L620.8,257.0 L621.2,256.4 L621.5,256.6 L621.9,257.1 L622.3,256.3 L622.7,255.7 L623.0,255.2 L623.4,254.9 L623.8,256.6 L624.2,255.9 L624.5,256.7 L624.9,256.6 L625.3,257.0 L625.7,256.6 L626.0,256.2 L626.4,255.7 L626.8,256.4 L627.1,255.8 L627.5,255.8 L627.9,255.6 L628.3,256.9 L628.6,254.8 L629.0,256.6 L629.4,255.2 L629.8,256.2 L630.1,256.4 L630.5,255.8 L630.9,256.8 L631.3,255.2 L631.6,257.0 L632.0,255.5 L632.4,256.1 L632.7,255.5 L633.1,255.0 L633.5,256.0 L633.9,256.2 L634.2,256.7 L634.6,255.9 L635.0,256.8 L635.4,255.6 L635.7,256.1 L636.1,256.7 L636.5,255.1 L636.9,256.2 L637.2,255.7 L637.6,256.5 L638.0,256.7 L638.3,255.4 L638.7,255.0 L639.1,254.7 L639.5,252.9 L639.8,253.1 L640.2,250.9 L640.6,250.4 L641.0,250.1 L641.3,250.0 L641.7,249.2 L642.1,249.5 L642.5,249.4 L642.8,250.1 L643.2,251.8 L643.6,253.0 L643.9,253.4 L644.3,254.3 L644.7,255.0 L645.1,254.5 L645.4,254.7 L645.8,255.0 L646.2,255.6 L646.6,256.8 L646.9,257.0 L647.3,255.3 L647.7,256.4 L648.1,256.4 L648.4,256.2 L648.8,255.9 L649.2,257.0 L649.5,255.9 L649.9,255.8 L650.3,256.0 L650.7,256.0 L651.0,255.7 L651.4,256.0 L651.8,255.8 L652.2,256.7 L652.5,256.4 L652.9,256.4 L653.3,257.1 L653.6,256.2 L654.0,255.7 L654.4,255.9 L654.8,256.0 L655.1,255.9 L655.5,255.5 L655.9,255.7 L656.3,256.2 L656.6,257.4 L657.0,255.3 L657.4,257.6 L657.8,255.4 L658.1,256.5 L658.5,256.9 L658.9,256.8 L659.2,256.4 L659.6,256.3 L660.0,256.6 L660.4,255.5 L660.7,254.9 L661.1,257.6 L661.5,257.0 L661.9,256.9 L662.2,255.8 L662.6,257.0 L663.0,256.8 L663.4,256.8 L663.7,256.3 L664.1,256.1" stroke="#000" stroke-width="2.1"/>
<path d="M141.6,256.1 L141.9,256.2 L142.3,256.1 L142.7,255.9 L143.0,256.2 L143.4,256.1 L143.8,256.0 L144.2,256.2 L144.5,256.1 L144.9,256.1 L145.3,256.1 L145.7,256.2 L146.0,256.0 L146.4,256.1 L146.8,256.0 L147.1,256.2 L147.5,256.1 L147.9,256.1 L148.3,256.0 L148.6,256.1 L149.0,256.1 L149.4,256.1 L149.8,256.2 L150.1,256.2 L150.5,255.8 L150.9,255.9 L151.3,256.1 L151.6,256.0 L152.0,256.1 L152.4,256.1 L152.7,256.3 L153.1,256.0 L153.5,256.0 L153.9,256.3 L154.2,256.2 L154.6,256.2 L155.0,256.0 L155.4,255.9 L155.7,256.1 L156.1,256.1 L156.5,255.9 L156.9,256.0 L157.2,256.1 L157.6,256.0 L158.0,256.1 L158.3,256.1 L158.7,256.1 L159.1,256.0 L159.5,256.2 L159.8,256.2 L160.2,256.1 L160.6,256.0 L161.0,256.2 L161.3,256.0 L161.7,256.2 L162.1,256.0 L162.5,256.2 L162.8,256.1 L163.2,255.9 L163.6,256.1 L163.9,256.1 L164.3,256.1 L164.7,256.0 L165.1,256.0 L165.4,256.1 L165.8,256.0 L166.2,256.1 L166.6,256.2 L166.9,255.9 L167.3,256.1 L167.7,256.2 L168.1,256.1 L168.4,256.0 L168.8,256.2 L169.2,256.1 L169.5,256.2 L169.9,256.0 L170.3,255.9 L170.7,256.1 L171.0,256.0 L171.4,256.2 L171.8,256.1 L172.2,255.9 L172.5,255.9 L172.9,256.2 L173.3,256.2 L173.6,256.0 L174.0,256.1 L174.4,256.1 L174.8,256.1 L175.1,256.2 L175.5,256.1 L175.9,256.1 L176.3,256.1 L176.6,256.2 L177.0,255.8 L177.4,256.1 L177.8,256.1 L178.1,255.9 L178.5,256.1 L178.9,256.0 L179.2,256.2 L179.6,256.1 L180.0,256.2 L180.4,256.2 L180.7,256.1 L181.1,256.0 L181.5,255.9 L181.9,256.3 L182.2,256.1 L182.6,256.0 L183.0,256.1 L183.4,256.1 L183.7,256.2 L184.1,256.1 L184.5,256.1 L184.8,256.0 L185.2,256.1 L185.6,256.0 L186.0,256.2 L186.3,256.3 L186.7,255.9 L187.1,255.8 L187.5,256.2 L187.8,256.4 L188.2,256.0 L188.6,255.9 L189.0,256.2 L189.3,256.0 L189.7,256.0 L190.1,256.0 L190.4,256.2 L190.8,256.0 L191.2,256.1 L191.6,256.1 L191.9,256.0 L192.3,256.0 L192.7,256.0 L193.1,256.1 L193.4,256.0 L193.8,256.0 L194.2,256.3 L194.6,256.1 L194.9,256.1 L195.3,256.1 L195.7,256.0 L196.0,256.1 L196.4,256.1 L196.8,256.1 L197.2,255.9 L197.5,256.2 L197.9,256.0 L198.3,256.0 L198.7,256.0 L199.0,256.0 L199.4,256.3 L199.8,255.9 L200.2,256.1 L200.5,255.8 L200.9,256.1 L201.3,256.2 L201.6,255.7 L202.0,255.2 L202.4,255.5 L202.8,255.8 L203.1,256.0 L203.5,256.3 L203.9,256.1 L204.3,256.0 L204.6,256.1 L205.0,256.1 L205.4,256.1 L205.7,256.1 L206.1,256.1 L206.5,255.9 L206.9,256.2 L207.2,256.0 L207.6,255.9 L208.0,256.2 L208.4,256.2 L208.7,256.1 L209.1,256.1 L209.5,256.0 L209.9,256.4 L210.2,256.2 L210.6,255.9 L211.0,256.0 L211.3,256.1 L211.7,255.9 L212.1,256.1 L212.5,256.0 L212.8,256.2 L213.2,256.2 L213.6,255.7 L214.0,256.1 L214.3,255.9 L214.7,256.2 L215.1,256.1 L215.5,256.1 L215.8,255.9 L216.2,256.3 L216.6,256.3 L216.9,255.9 L217.3,256.1 L217.7,256.0 L218.1,256.1 L218.4,255.9 L218.8,256.3 L219.2,255.9 L219.6,256.0 L219.9,256.1 L220.3,256.0 L220.7,256.0 L221.1,256.0 L221.4,256.0 L221.8,255.9 L222.2,256.0 L222.5,256.0 L222.9,256.0 L223.3,256.1 L223.7,256.0 L224.0,256.1 L224.4,256.0 L224.8,256.0 L225.2,256.0 L225.5,256.0 L225.9,255.9 L226.3,256.1 L226.7,255.9 L227.0,256.0 L227.4,256.1 L227.8,256.1 L228.1,256.0 L228.5,255.8 L228.9,256.1 L229.3,256.1 L229.6,255.9 L230.0,256.1 L230.4,256.0 L230.8,255.9 L231.1,256.0 L231.5,256.0 L231.9,256.1 L232.2,255.8 L232.6,256.3 L233.0,256.0 L233.4,255.8 L233.7,256.1 L234.1,256.0 L234.5,256.1 L234.9,256.0 L235.2,256.0 L235.6,256.1 L236.0,255.9 L236.4,256.1 L236.7,256.0 L237.1,255.9 L237.5,256.0 L237.8,256.1 L238.2,256.0 L238.6,255.9 L239.0,256.1 L239.3,255.8 L239.7,255.9 L240.1,256.0 L240.5,255.9 L240.8,256.0 L241.2,256.0 L241.6,256.1 L242.0,255.9 L242.3,255.9 L242.7,256.1 L243.1,255.7 L243.4,256.4 L243.8,255.9 L244.2,255.9 L244.6,256.1 L244.9,256.0 L245.3,255.8 L245.7,256.1 L246.1,256.1 L246.4,256.0 L246.8,256.0 L247.2,256.1 L247.6,255.9 L247.9,256.1 L248.3,256.0 L248.7,255.9 L249.0,255.8 L249.4,256.0 L249.8,255.9 L250.2,256.1 L250.5,256.0 L250.9,256.1 L251.3,256.0 L251.7,256.0 L252.0,255.9 L252.4,256.1 L252.8,256.2 L253.2,256.0 L253.5,255.9 L253.9,256.0 L254.3,255.9 L254.6,255.9 L255.0,256.0 L255.4,255.9 L255.8,256.2 L256.1,256.0 L256.5,256.0 L256.9,256.1 L257.3,255.9 L257.6,256.1 L258.0,255.9 L258.4,255.9 L258.8,255.9 L259.1,256.0 L259.5,255.8 L259.9,256.0 L260.2,255.8 L260.6,256.1 L261.0,256.0 L261.4,255.9 L261.7,255.9 L262.1,255.9 L262.5,255.9 L262.9,255.8 L263.2,255.8 L263.6,255.9 L264.0,255.9 L264.3,256.1 L264.7,256.1 L265.1,255.9 L265.5,256.0 L265.8,255.8 L266.2,256.0 L266.6,255.9 L267.0,256.0 L267.3,256.1 L267.7,255.7 L268.1,256.0 L268.5,255.8 L268.8,256.0 L269.2,255.8 L269.6,255.9 L269.9,255.9 L270.3,256.0 L270.7,255.9 L271.1,255.8 L271.4,255.8 L271.8,256.0 L272.2,255.9 L272.6,255.7 L272.9,256.0 L273.3,256.0 L273.7,256.0 L274.1,255.9 L274.4,256.0 L274.8,255.8 L275.2,256.0 L275.5,255.8 L275.9,256.0 L276.3,256.0 L276.7,255.8 L277.0,255.9 L277.4,255.9 L277.8,256.0 L278.2,255.9 L278.5,255.7 L278.9,255.9 L279.3,255.9 L279.7,256.1 L280.0,255.6 L280.4,255.8 L280.8,256.0 L281.1,255.7 L281.5,255.7 L281.9,255.9 L282.3,255.9 L282.6,255.7 L283.0,255.5 L283.4,255.1 L283.8,255.0 L284.1,254.4 L284.5,254.2 L284.9,253.7 L285.3,253.4 L285.6,253.1 L286.0,252.9 L286.4,252.8 L286.7,252.6 L287.1,252.8 L287.5,252.8 L287.9,252.7 L288.2,252.6 L288.6,252.6 L289.0,252.5 L289.4,252.7 L289.7,252.7 L290.1,252.5 L290.5,252.7 L290.9,252.4 L291.2,252.3 L291.6,252.2 L292.0,252.3 L292.3,251.7 L292.7,251.8 L293.1,251.7 L293.5,251.4 L293.8,251.6 L294.2,251.5 L294.6,251.4 L295.0,251.9 L295.3,251.8 L295.7,252.0 L296.1,252.0 L296.4,252.4 L296.8,252.5 L297.2,252.4 L297.6,252.6 L297.9,252.6 L298.3,252.4 L298.7,252.2 L299.1,252.0 L299.4,251.8 L299.8,251.3 L300.2,250.6 L300.6,249.6 L300.9,247.5 L301.3,244.1 L301.7,238.0 L302.0,228.3 L302.4,213.8 L302.8,195.6 L303.2,174.8 L303.5,156.1 L303.9,145.1 L304.3,146.6 L304.7,159.6 L305.0,179.0 L305.4,199.5 L305.8,217.3 L306.2,230.8 L306.5,240.0 L306.9,245.6 L307.3,248.8 L307.6,250.5 L308.0,251.4 L308.4,252.1 L308.8,252.7 L309.1,253.1 L309.5,253.3 L309.9,253.3 L310.3,253.5 L310.6,253.6 L311.0,253.7 L311.4,253.9 L311.8,254.0 L312.1,254.2 L312.5,254.1 L312.9,254.3 L313.2,254.4 L313.6,254.2 L314.0,254.4 L314.4,254.3 L314.7,254.1 L315.1,254.2 L315.5,254.1 L315.9,254.1 L316.2,254.0 L316.6,254.0 L317.0,254.0 L317.4,253.7 L317.7,253.7 L318.1,253.4 L318.5,253.5 L318.8,253.3 L319.2,253.0 L319.6,252.5 L320.0,251.8 L320.3,250.6 L320.7,249.0 L321.1,246.4 L321.5,242.0 L321.8,234.9 L322.2,225.0 L322.6,211.7 L322.9,197.4 L323.3,184.0 L323.7,175.8 L324.1,176.1 L324.4,184.5 L324.8,197.6 L325.2,211.3 L325.6,222.9 L325.9,231.6 L326.3,237.3 L326.7,240.7 L327.1,242.5 L327.4,243.9 L327.8,244.5 L328.2,244.7 L328.5,245.4 L328.9,245.1 L329.3,245.2 L329.7,245.2 L330.0,245.4 L330.4,245.1 L330.8,245.1 L331.2,244.9 L331.5,244.6 L331.9,244.1 L332.3,243.8 L332.7,243.5 L333.0,242.8 L333.4,242.1 L333.8,240.8 L334.1,238.3 L334.5,233.5 L334.9,225.2 L335.3,211.5 L335.6,191.8 L336.0,165.1 L336.4,133.4 L336.8,102.1 L337.1,77.6 L337.5,67.8 L337.9,77.7 L338.3,102.9 L338.6,134.7 L339.0,166.5 L339.4,193.7 L339.7,214.3 L340.1,228.3 L340.5,237.4 L340.9,242.7 L341.2,245.6 L341.6,247.8 L342.0,249.2 L342.4,250.1 L342.7,250.8 L343.1,251.2 L343.5,251.9 L343.9,252.1 L344.2,252.7 L344.6,253.0 L345.0,253.5 L345.3,253.7 L345.7,253.8 L346.1,254.2 L346.5,254.6 L346.8,254.5 L347.2,254.8 L347.6,255.0 L348.0,255.0 L348.3,255.4 L348.7,255.5 L349.1,255.5 L349.5,255.5 L349.8,255.5 L350.2,255.6 L350.6,255.5 L350.9,255.7 L351.3,255.8 L351.7,255.8 L352.1,255.6 L352.4,255.7 L352.8,255.7 L353.2,256.0 L353.6,255.8 L353.9,255.6 L354.3,255.9 L354.7,256.1 L355.0,256.0 L355.4,256.0 L355.8,255.9 L356.2,255.7 L356.5,255.7 L356.9,255.8 L357.3,256.0 L357.7,256.0 L358.0,256.1 L358.4,256.0 L358.8,256.1 L359.2,256.0 L359.5,256.0 L359.9,256.2 L360.3,256.0 L360.6,255.7 L361.0,256.0 L361.4,256.1 L361.8,255.7 L362.1,256.1 L362.5,256.1 L362.9,255.9 L363.3,255.9 L363.6,256.1 L364.0,256.1 L364.4,256.3 L364.8,256.2 L365.1,256.0 L365.5,256.1 L365.9,256.2 L366.2,256.4 L366.6,256.2 L367.0,256.2 L367.4,256.4 L367.7,256.2 L368.1,256.2 L368.5,256.0 L368.9,256.1 L369.2,256.5 L369.6,256.0 L370.0,256.2 L370.4,256.0 L370.7,256.2 L371.1,256.3 L371.5,256.2 L371.8,256.3 L372.2,256.3 L372.6,256.3 L373.0,256.4 L373.3,256.3 L373.7,256.2 L374.1,256.2 L374.5,256.2 L374.8,256.3 L375.2,256.2 L375.6,256.6 L376.0,256.5 L376.3,256.2 L376.7,256.2 L377.1,256.5 L377.4,256.0 L377.8,256.2 L378.2,256.4 L378.6,256.2 L378.9,256.2 L379.3,256.2 L379.7,256.4 L380.1,256.3 L380.4,256.3 L380.8,256.4 L381.2,256.3 L381.5,256.2 L381.9,255.8 L382.3,255.5 L382.7,255.2 L383.0,255.0 L383.4,254.9 L383.8,254.9 L384.2,254.5 L384.5,254.7 L384.9,254.8 L385.3,255.1 L385.7,255.4 L386.0,255.6 L386.4,255.7 L386.8,256.0 L387.1,256.4 L387.5,256.0 L387.9,256.3 L388.3,256.0 L388.6,256.3 L389.0,256.2 L389.4,256.0 L389.8,256.3 L390.1,256.5 L390.5,256.3 L390.9,256.4 L391.3,256.2 L391.6,256.0 L392.0,256.3 L392.4,256.2 L392.7,256.0 L393.1,256.3 L393.5,256.2 L393.9,256.1 L394.2,256.3 L394.6,256.1 L395.0,256.2 L395.4,256.0 L395.7,256.2 L396.1,256.0 L396.5,256.3 L396.9,256.1 L397.2,256.3 L397.6,256.0 L398.0,256.0 L398.3,256.2 L398.7,255.7 L399.1,255.9 L399.5,256.2 L399.8,256.1 L400.2,256.2 L400.6,256.0 L401.0,256.1 L401.3,255.9 L401.7,255.8 L402.1,255.8 L402.5,255.9 L402.8,255.9 L403.2,255.9 L403.6,255.5 L403.9,255.7 L404.3,255.9 L404.7,256.0 L405.1,255.8 L405.4,255.8 L405.8,255.6 L406.2,256.1 L406.6,255.7 L406.9,256.1 L407.3,256.0 L407.7,255.9 L408.1,255.7 L408.4,255.8 L408.8,255.6 L409.2,255.8 L409.5,255.7 L409.9,255.8 L410.3,255.8 L410.7,255.9 L411.0,255.6 L411.4,255.8 L411.8,255.5 L412.2,255.5 L412.5,255.5 L412.9,255.4 L413.3,255.6 L413.6,255.6 L414.0,255.6 L414.4,255.4 L414.8,255.3 L415.1,255.2 L415.5,255.0 L415.9,255.1 L416.3,255.0 L416.6,254.7 L417.0,254.8 L417.4,254.3 L417.8,254.1 L418.1,253.5 L418.5,252.7 L418.9,251.1 L419.2,249.0 L419.6,245.5 L420.0,240.8 L420.4,234.7 L420.7,227.9 L421.1,221.7 L421.5,217.2 L421.9,216.3 L422.2,218.9 L422.6,224.1 L423.0,230.5 L423.4,237.0 L423.7,242.6 L424.1,246.7 L424.5,249.8 L424.8,251.8 L425.2,252.9 L425.6,253.6 L426.0,254.0 L426.3,254.2 L426.7,254.3 L427.1,254.7 L427.5,254.7 L427.8,255.0 L428.2,254.7 L428.6,254.7 L429.0,255.1 L429.3,255.1 L429.7,254.9 L430.1,254.9 L430.4,255.1 L430.8,254.9 L431.2,255.1 L431.6,254.9 L431.9,255.1 L432.3,254.9 L432.7,255.1 L433.1,255.4 L433.4,255.1 L433.8,255.3 L434.2,255.1 L434.6,255.1 L434.9,255.0 L435.3,255.3 L435.7,255.2 L436.0,255.4 L436.4,255.1 L436.8,255.2 L437.2,255.2 L437.5,255.4 L437.9,255.4 L438.3,255.1 L438.7,255.1 L439.0,255.0 L439.4,255.4 L439.8,255.2 L440.2,255.1 L440.5,255.2 L440.9,254.9 L441.3,255.0 L441.6,255.3 L442.0,255.2 L442.4,255.2 L442.8,255.1 L443.1,255.3 L443.5,255.4 L443.9,255.0 L444.3,255.2 L444.6,255.1 L445.0,255.2 L445.4,255.2 L445.7,255.1 L446.1,255.1 L446.5,255.2 L446.9,255.1 L447.2,255.1 L447.6,255.1 L448.0,255.2 L448.4,255.1 L448.7,255.1 L449.1,255.3 L449.5,255.1 L449.9,255.1 L450.2,255.2 L450.6,255.1 L451.0,255.1 L451.3,255.1 L451.7,255.0 L452.1,255.2 L452.5,255.2 L452.8,255.2 L453.2,254.9 L453.6,255.1 L454.0,255.0 L454.3,255.0 L454.7,255.1 L455.1,254.9 L455.5,255.2 L455.8,255.0 L456.2,255.1 L456.6,255.1 L456.9,255.2 L457.3,255.2 L457.7,254.8 L458.1,255.0 L458.4,254.8 L458.8,255.0 L459.2,255.1 L459.6,255.1 L459.9,255.1 L460.3,254.9 L460.7,255.0 L461.1,255.0 L461.4,255.1 L461.8,255.2 L462.2,254.9 L462.5,255.4 L462.9,254.9 L463.3,254.9 L463.7,255.0 L464.0,255.0 L464.4,255.0 L464.8,254.8 L465.2,255.1 L465.5,254.9 L465.9,255.1 L466.3,255.1 L466.7,254.7 L467.0,254.8 L467.4,254.7 L467.8,254.9 L468.1,254.9 L468.5,254.9 L468.9,254.7 L469.3,254.9 L469.6,255.0 L470.0,254.6 L470.4,254.8 L470.8,254.8 L471.1,254.8 L471.5,254.7 L471.9,255.0 L472.2,254.9 L472.6,254.8 L473.0,254.6 L473.4,255.0 L473.7,254.7 L474.1,254.6 L474.5,254.6 L474.9,254.6 L475.2,254.9 L475.6,254.6 L476.0,254.6 L476.4,254.3 L476.7,254.6 L477.1,254.4 L477.5,254.4 L477.8,254.6 L478.2,254.4 L478.6,254.5 L479.0,254.5 L479.3,254.1 L479.7,254.3 L480.1,254.1 L480.5,254.2 L480.8,254.3 L481.2,253.9 L481.6,254.3 L482.0,253.9 L482.3,253.7 L482.7,253.7 L483.1,253.7 L483.4,253.3 L483.8,253.3 L484.2,252.9 L484.6,253.0 L484.9,252.4 L485.3,251.8 L485.7,251.0 L486.1,249.1 L486.4,246.7 L486.8,243.0 L487.2,237.1 L487.6,229.6 L487.9,220.0 L488.3,209.5 L488.7,199.6 L489.0,192.2 L489.4,189.3 L489.8,192.1 L490.2,199.5 L490.5,209.3 L490.9,219.9 L491.3,229.3 L491.7,237.0 L492.0,242.4 L492.4,246.6 L492.8,249.0 L493.2,250.4 L493.5,251.5 L493.9,252.1 L494.3,252.5 L494.6,252.7 L495.0,253.0 L495.4,253.1 L495.8,253.2 L496.1,253.1 L496.5,253.4 L496.9,253.7 L497.3,253.7 L497.6,253.9 L498.0,254.0 L498.4,254.0 L498.8,254.4 L499.1,254.1 L499.5,254.4 L499.9,254.3 L500.2,254.3 L500.6,254.6 L501.0,254.5 L501.4,254.7 L501.7,254.6 L502.1,254.8 L502.5,254.7 L502.9,254.9 L503.2,254.9 L503.6,254.9 L504.0,255.1 L504.3,254.9 L504.7,254.9 L505.1,255.2 L505.5,255.2 L505.8,255.2 L506.2,255.1 L506.6,255.4 L507.0,255.0 L507.3,255.0 L507.7,255.0 L508.1,255.2 L508.5,255.2 L508.8,255.3 L509.2,255.3 L509.6,255.1 L509.9,255.1 L510.3,255.0 L510.7,255.4 L511.1,255.3 L511.4,255.3 L511.8,255.1 L512.2,255.2 L512.6,255.2 L512.9,255.2 L513.3,254.9 L513.7,255.2 L514.1,255.2 L514.4,255.2 L514.8,255.2 L515.2,255.3 L515.5,255.2 L515.9,255.3 L516.3,254.9 L516.7,255.0 L517.0,255.2 L517.4,254.7 L517.8,254.7 L518.2,254.6 L518.5,254.3 L518.9,254.4 L519.3,254.0 L519.7,253.8 L520.0,253.7 L520.4,253.5 L520.8,253.6 L521.1,253.4 L521.5,253.4 L521.9,253.1 L522.3,253.4 L522.6,252.9 L523.0,252.8 L523.4,252.7 L523.8,252.5 L524.1,252.3 L524.5,252.2 L524.9,252.2 L525.3,252.0 L525.6,251.9 L526.0,251.5 L526.4,251.3 L526.7,251.5 L527.1,251.1 L527.5,251.0 L527.9,250.8 L528.2,250.7 L528.6,250.2 L529.0,250.1 L529.4,249.9 L529.7,249.7 L530.1,249.2 L530.5,249.3 L530.8,248.6 L531.2,248.7 L531.6,248.3 L532.0,247.8 L532.3,247.1 L532.7,246.5 L533.1,244.7 L533.5,242.2 L533.8,238.5 L534.2,233.4 L534.6,227.1 L535.0,219.8 L535.3,212.2 L535.7,206.6 L536.1,204.1 L536.4,205.4 L536.8,210.4 L537.2,217.3 L537.6,225.3 L537.9,232.2 L538.3,238.4 L538.7,243.1 L539.1,246.4 L539.4,248.3 L539.8,249.8 L540.2,250.5 L540.6,251.1 L540.9,251.8 L541.3,252.0 L541.7,252.2 L542.0,252.3 L542.4,252.7 L542.8,252.9 L543.2,252.9 L543.5,253.0 L543.9,253.4 L544.3,253.4 L544.7,253.4 L545.0,253.5 L545.4,253.6 L545.8,253.8 L546.2,254.1 L546.5,253.9 L546.9,254.3 L547.3,254.1 L547.6,254.2 L548.0,254.5 L548.4,254.4 L548.8,254.4 L549.1,254.5 L549.5,254.6 L549.9,254.3 L550.3,254.5 L550.6,254.5 L551.0,254.5 L551.4,254.6 L551.8,254.5 L552.1,254.5 L552.5,254.6 L552.9,254.7 L553.2,254.5 L553.6,254.8 L554.0,254.5 L554.4,254.7 L554.7,254.5 L555.1,254.5 L555.5,254.6 L555.9,254.8 L556.2,254.7 L556.6,254.5 L557.0,254.7 L557.4,254.5 L557.7,254.4 L558.1,254.5 L558.5,254.4 L558.8,254.4 L559.2,254.0 L559.6,253.8 L560.0,253.4 L560.3,252.7 L560.7,251.8 L561.1,250.7 L561.5,249.9 L561.8,248.9 L562.2,248.3 L562.6,248.2 L562.9,248.7 L563.3,249.4 L563.7,250.6 L564.1,251.6 L564.4,252.4 L564.8,253.2 L565.2,253.6 L565.6,254.0 L565.9,254.0 L566.3,253.9 L566.7,254.1 L567.1,254.0 L567.4,253.9 L567.8,254.0 L568.2,253.9 L568.5,253.8 L568.9,253.6 L569.3,253.5 L569.7,253.3 L570.0,253.1 L570.4,252.3 L570.8,251.4 L571.2,250.0 L571.5,247.4 L571.9,244.0 L572.3,239.8 L572.7,233.5 L573.0,227.3 L573.4,220.6 L573.8,215.4 L574.1,212.8 L574.5,213.9 L574.9,218.2 L575.3,223.9 L575.6,230.7 L576.0,236.7 L576.4,241.8 L576.8,245.3 L577.1,248.0 L577.5,249.6 L577.9,250.4 L578.3,250.7 L578.6,251.4 L579.0,251.1 L579.4,250.9 L579.7,250.5 L580.1,249.5 L580.5,247.6 L580.9,245.5 L581.2,242.7 L581.6,239.8 L582.0,237.0 L582.4,234.3 L582.7,233.8 L583.1,234.3 L583.5,237.0 L583.9,240.0 L584.2,243.6 L584.6,246.4 L585.0,248.7 L585.3,250.5 L585.7,251.7 L586.1,252.7 L586.5,253.2 L586.8,253.6 L587.2,254.0 L587.6,254.0 L588.0,253.9 L588.3,254.0 L588.7,254.2 L589.1,254.5 L589.5,254.4 L589.8,254.5 L590.2,254.7 L590.6,254.5 L590.9,254.6 L591.3,254.9 L591.7,254.9 L592.1,254.9 L592.4,255.1 L592.8,255.0 L593.2,255.1 L593.6,255.1 L593.9,255.3 L594.3,255.2 L594.7,255.1 L595.0,255.2 L595.4,255.3 L595.8,255.5 L596.2,255.1 L596.5,255.3 L596.9,255.2 L597.3,255.4 L597.7,255.3 L598.0,255.5 L598.4,255.3 L598.8,255.2 L599.2,255.2 L599.5,255.4 L599.9,255.4 L600.3,255.6 L600.6,255.5 L601.0,255.2 L601.4,255.4 L601.8,255.2 L602.1,255.1 L602.5,255.4 L602.9,255.4 L603.3,255.2 L603.6,255.5 L604.0,255.2 L604.4,255.1 L604.8,255.3 L605.1,255.2 L605.5,255.1 L605.9,255.0 L606.2,254.8 L606.6,254.6 L607.0,254.3 L607.4,253.8 L607.7,253.6 L608.1,253.6 L608.5,253.3 L608.9,253.5 L609.2,253.8 L609.6,253.9 L610.0,254.3 L610.4,254.8 L610.7,254.9 L611.1,255.2 L611.5,255.3 L611.8,255.3 L612.2,255.3 L612.6,255.3 L613.0,255.3 L613.3,255.5 L613.7,255.5 L614.1,255.4 L614.5,255.6 L614.8,255.4 L615.2,255.6 L615.6,255.5 L616.0,255.5 L616.3,255.5 L616.7,255.5 L617.1,255.8 L617.4,255.3 L617.8,255.5 L618.2,255.7 L618.6,255.6 L618.9,255.5 L619.3,255.7 L619.7,255.4 L620.1,255.4 L620.4,255.6 L620.8,255.4 L621.2,255.3 L621.5,255.6 L621.9,255.6 L622.3,255.6 L622.7,255.5 L623.0,255.6 L623.4,255.4 L623.8,255.8 L624.2,255.7 L624.5,255.7 L624.9,255.3 L625.3,255.7 L625.7,255.8 L626.0,255.7 L626.4,255.7 L626.8,255.6 L627.1,255.5 L627.5,255.7 L627.9,255.6 L628.3,255.6 L628.6,255.6 L629.0,255.8 L629.4,255.5 L629.8,255.6 L630.1,255.5 L630.5,255.7 L630.9,255.8 L631.3,255.7 L631.6,255.7 L632.0,255.4 L632.4,255.8 L632.7,255.7 L633.1,255.6 L633.5,255.6 L633.9,255.5 L634.2,255.6 L634.6,255.6 L635.0,255.5 L635.4,255.2 L635.7,255.5 L636.1,255.6 L636.5,255.6 L636.9,255.4 L637.2,255.5 L637.6,255.4 L638.0,255.1 L638.3,255.1 L638.7,254.3 L639.1,253.9 L639.5,253.3 L639.8,252.4 L640.2,251.7 L640.6,251.3 L641.0,250.7 L641.3,250.4 L641.7,250.8 L642.1,251.2 L642.5,251.8 L642.8,252.7 L643.2,253.4 L643.6,254.2 L643.9,254.4 L644.3,255.1 L644.7,255.1 L645.1,255.5 L645.4,255.3 L645.8,255.5 L646.2,255.6 L646.6,255.7 L646.9,255.5 L647.3,255.8 L647.7,255.7 L648.1,255.6 L648.4,255.8 L648.8,255.7 L649.2,255.8 L649.5,256.0 L649.9,255.8 L650.3,255.7 L650.7,255.7 L651.0,255.8 L651.4,255.8 L651.8,255.7 L652.2,255.7 L652.5,255.8 L652.9,256.1 L653.3,255.5 L653.6,255.9 L654.0,255.8 L654.4,255.9 L654.8,255.9 L655.1,255.8 L655.5,255.7 L655.9,255.6 L656.3,255.6 L656.6,256.0 L657.0,255.8 L657.4,255.8 L657.8,255.8 L658.1,255.7 L658.5,255.9 L658.9,256.0 L659.2,256.0 L659.6,255.7 L660.0,256.0 L660.4,255.8 L660.7,255.6 L661.1,255.7 L661.5,255.7 L661.9,255.9 L662.2,255.7 L662.6,255.7 L663.0,255.8 L663.4,256.1 L663.7,255.8 L664.1,255.9" stroke="#ff0000" stroke-width="1.6"/>
</g>
<g class="t" font-size="18" text-anchor="middle">
<text x="67.8" y="283.2">0</text>
<text x="141.4" y="284.3">10</text>
<text x="215.7" y="284.3">20</text>
<text x="290.35" y="285.5">30</text>
<text x="366.25" y="284.7">40</text>
<text x="440.8" y="285.8">50</text>
<text x="515.9" y="285.5">60</text>
<text x="586.95" y="285.5">70</text>
<text x="663.6" y="287">80</text>
<text x="739.2" y="285.5">90</text>
</g>
<text class="t" font-size="22" letter-spacing="0.5" transform="translate(38.4,140.1) rotate(-90)" text-anchor="middle">Intensity (a.u.)</text>
<g class="t" font-size="22">
<text x="355.4" y="319">2</text><text x="373.7" y="319">T</text><text x="387.4" y="319">h</text><text x="401.4" y="319">e</text><text x="412.1" y="319">t</text><text x="419" y="319">a</text>
</g>
<g font-family="Liberation Serif" font-weight="normal">
<text x="438" y="319" font-size="23">(</text><text x="451.2" y="319" font-size="23">)</text>
</g>
<ellipse cx="447.3" cy="307.5" rx="2.7" ry="3.6" fill="none" stroke="#111" stroke-width="1.2"/>
<rect x="382.5" y="35.3" width="349.8" height="26.5" fill="#ffff00" stroke="#4a4a66" stroke-width="1.3"/>
<line x1="402.2" y1="48.6" x2="433.7" y2="48.6" stroke="#4a8fd0" stroke-width="2"/>
<line x1="477.9" y1="48.6" x2="509" y2="48.6" stroke="#000" stroke-width="2.5"/>
<line x1="590.5" y1="48.9" x2="619.5" y2="48.9" stroke="#ff2020" stroke-width="1.6"/>
<g class="l" font-size="12.5">
<text x="436.6" y="51.8">ZnO</text>
<text x="512.2" y="51.8">Zno-Fe/Ag</text>
<text x="623.7" y="51.8">ZnO-Fe(0.04)/Ag</text>
</g>
</svg>
</body></html>
